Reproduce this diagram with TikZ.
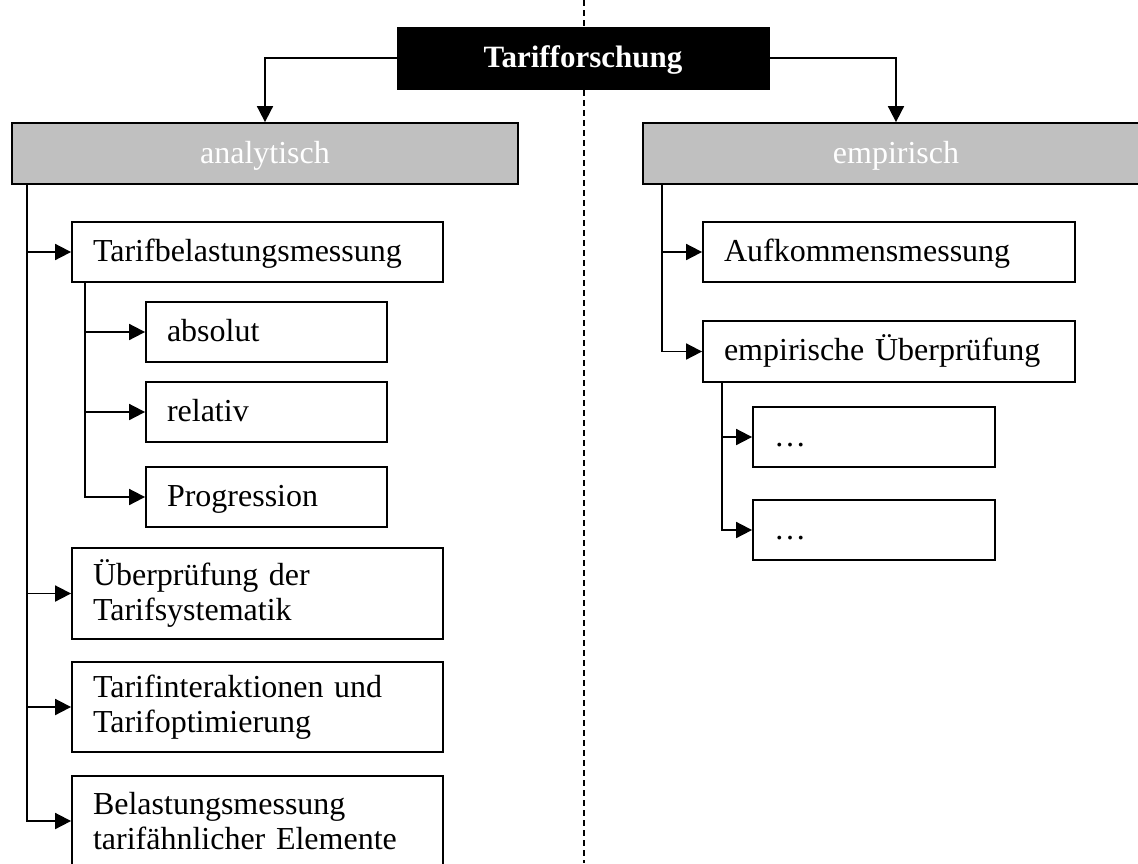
\documentclass[tikz,border=0pt]{standalone}
\usepackage{fontspec}
\setmainfont{Liberation Serif}
\usetikzlibrary{arrows.meta,calc}
\definecolor{headgray}{HTML}{C0C0C0}
\tikzset{
  every node/.style={font=\fontsize{32}{35}\selectfont},
  rootbox/.style={draw=black, fill=black, text=white, line width=1pt,
    font=\fontsize{31}{35}\selectfont\bfseries, inner sep=0pt,
    minimum width=372pt, minimum height=62pt, text height=24pt, text depth=5pt},
  headbox/.style={draw=black, fill=headgray, text=white, line width=1.8pt,
    inner sep=0pt, minimum width=506pt, minimum height=61pt,
    text height=24pt, text depth=5pt},
  box/.style={draw=black, fill=white, line width=1.8pt, inner ysep=0pt,
    inner xsep=21pt, align=left},
  oneline/.style={text height=24pt, text depth=6pt},
  conn/.style={line width=1.8pt, -{Triangle[length=16pt,width=16pt]}},
  divider/.style={line width=1.6pt, dash pattern=on 6pt off 4pt}
}
\begin{document}
\begin{tikzpicture}[x=1pt, y=-1pt]
  \useasboundingbox (0,0) rectangle (1138,863);
  \clip (0,0) rectangle (1138,863);

  % dividing line between the two branches
  \coordinate (dtop) at (584,0);
  \coordinate (dbot) at (584,863);
  \draw[divider] (dtop) -- (dbot);

  % root and the two main branches
  \node[rootbox] (root) at (583,58) {Tarifforschung};
  \node[headbox] (ana) at (265,153.5) {analytisch};
  \node[headbox] (emp) at (896,153.5) {empirisch};

  % analytical branch
  \node[box, oneline, minimum width=371pt, text width=329pt, minimum height=60pt]
    (tb) at (257.5,252) {Tarifbelastungsmessung};
  \node[box, oneline, minimum width=241pt, text width=199pt, minimum height=60pt]
    (abs) at (266.5,332) {absolut};
  \node[box, oneline, minimum width=241pt, text width=199pt, minimum height=60pt]
    (rel) at (266.5,412) {relativ};
  \node[box, oneline, minimum width=241pt, text width=199pt, minimum height=60pt]
    (prog) at (266.5,497) {Progression};
  \node[box, minimum width=371pt, text width=329pt, minimum height=91pt]
    (ueb) at (257.5,593.5) {Überprüfung der\\Tarifsystematik};
  \node[box, minimum width=371pt, text width=329pt, minimum height=90pt]
    (ti) at (257.5,707) {Tarifinteraktionen und\\Tarifoptimierung};
  \node[box, minimum width=371pt, text width=329pt, minimum height=90pt]
    (bel) at (257.5,821) {Belastungsmessung\\tarifähnlicher Elemente};

  % empirical branch
  \node[box, oneline, minimum width=372pt, text width=330pt, minimum height=60pt]
    (aufk) at (889,252) {Aufkommensmessung};
  \node[box, oneline, minimum width=372pt, text width=330pt, minimum height=61pt]
    (empu) at (889,351.5) {empirische Überprüfung};
  \node[box, oneline, minimum width=242pt, text width=200pt, minimum height=60pt]
    (d1) at (874,437) {…};
  \node[box, oneline, minimum width=242pt, text width=200pt, minimum height=60pt]
    (d2) at (874,530) {…};

  % connectors from the root
  \draw[conn] (root.west) -| (ana.north);
  \draw[conn] (root.east) -| (emp.north);

  % trunks
  \coordinate (lt) at ($(ana.south west)+(15.5,0)$);
  \coordinate (st) at ($(tb.south west)+(14,0)$);
  \coordinate (rt) at ($(emp.south west)+(19.5,0)$);
  \coordinate (rst) at ($(empu.south west)+(20,0)$);

  \draw[conn] (lt) |- (bel.west);
  \draw[conn] (lt) |- (ti.west);
  \draw[conn] (lt) |- (ueb.west);
  \draw[conn] (lt) |- (tb.west);

  \draw[conn] (st) |- (prog.west);
  \draw[conn] (st) |- (rel.west);
  \draw[conn] (st) |- (abs.west);

  \draw[conn] (rt) |- (empu.west);
  \draw[conn] (rt) |- (aufk.west);

  \draw[conn] (rst) |- (d2.west);
  \draw[conn] (rst) |- (d1.west);
\end{tikzpicture}
\end{document}
